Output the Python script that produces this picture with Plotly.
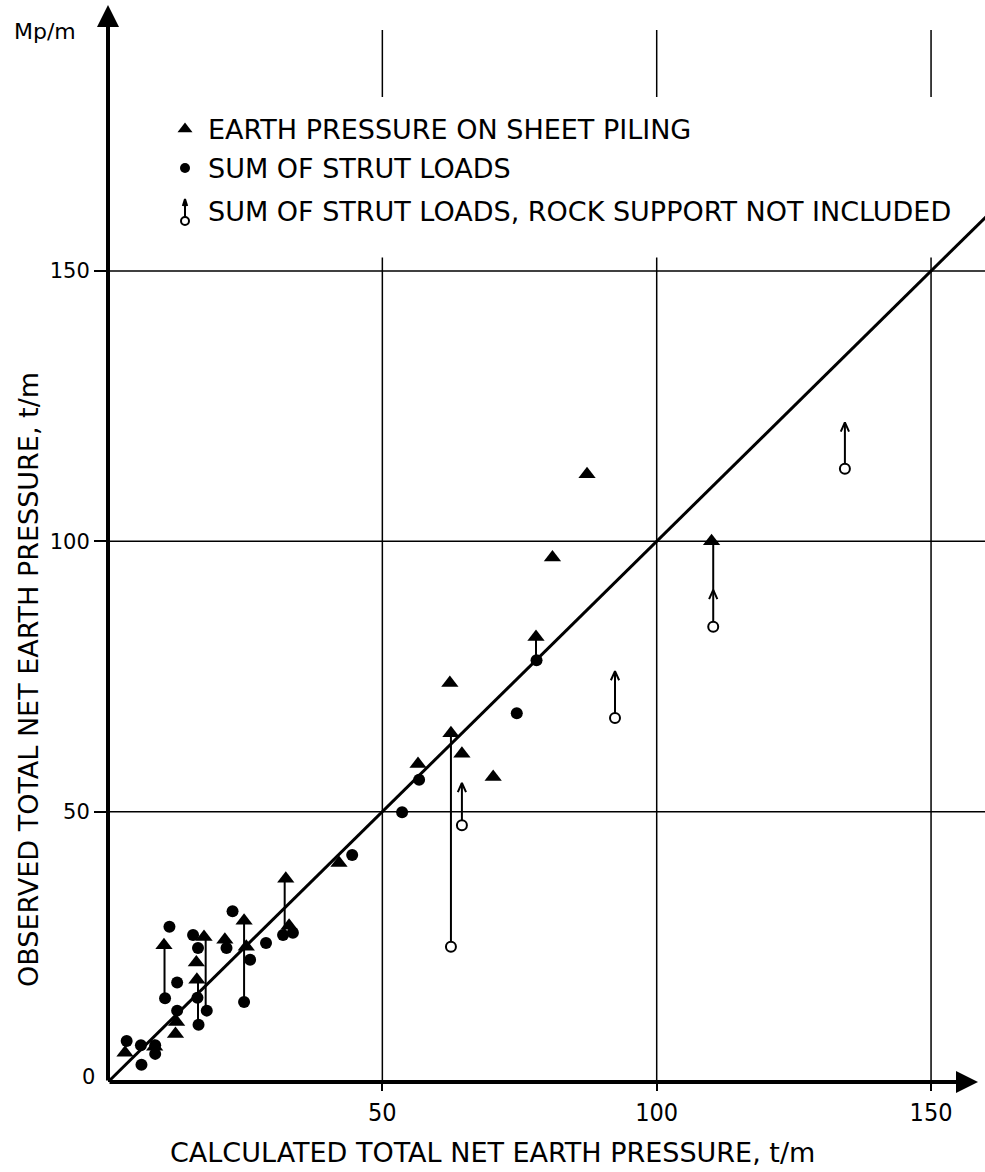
import plotly.graph_objects as go

# ---------------- data ----------------
# Earth pressure on sheet piling (filled triangles)
tri_x = [3.1, 8.5, 12.3, 12.5, 16.2, 16.1, 10.2, 17.5, 21.3, 24.8, 25.2, 32.4, 33.0,
         42.1, 56.5, 62.5, 62.3, 64.5, 70.2, 78.0, 81.0, 87.3, 110.0]
tri_y = [5.4, 6.5, 8.9, 11.1, 18.9, 22.1, 25.3, 26.8, 26.3, 29.8, 25.0, 37.6, 28.9,
         40.5, 58.8, 64.5, 73.8, 60.7, 56.4, 82.3, 97.0, 112.4, 100.0]

# Sum of strut loads (filled circles)
dot_x = [3.4, 6.0, 6.1, 8.6, 8.6, 10.4, 11.2, 12.6, 12.6, 15.5, 16.4, 16.3, 16.5, 18.0,
         21.6, 22.7, 24.8, 25.9, 28.8, 31.9, 33.7, 44.5, 53.6, 56.7, 74.5, 78.1]
dot_y = [7.6, 6.8, 3.2, 6.8, 5.2, 15.5, 28.7, 18.4, 13.2, 27.2, 24.8, 15.6, 10.6, 13.2,
         24.8, 31.6, 14.8, 22.6, 25.7, 27.2, 27.6, 42.0, 49.9, 55.9, 68.2, 78.0]

# vertical links strut loads -> sheet piling
link_x = [10.3, 17.8, 16.4, 24.8, 32.2, 78.0]
link_lo = [15.5, 13.2, 10.6, 14.8, 27.2, 78.0]
link_hi = [25.3, 26.8, 18.9, 29.8, 37.6, 82.3]

# Sum of strut loads, rock support not included (open circles + arrows)
open_x = [62.5, 64.5, 92.4, 110.3, 134.3]
open_y = [25.0, 47.5, 67.3, 84.2, 113.4]
open_top = [64.5, 55.3, 76.0, 100.0, 122.0]
open_head = [None, 55.3, 76.0, 91.0, 122.0]

grid_vals = [50, 100, 150]
tick_text = ["50", "100", "150"]

legend_labels = ["EARTH PRESSURE ON SHEET PILING",
                 "SUM OF STRUT LOADS",
                 "SUM OF STRUT LOADS, ROCK SUPPORT NOT INCLUDED"]

# ---------------- geometry helpers ----------------
W, H = 985, 1172
ML, MB = 108, 90
PW, PH = W - ML, H - MB
PX_X = 5.487   # px per unit
PX_Y = 5.407
XMAX = PW / PX_X
YMAX = PH / PX_Y


def dx(px):
    return (px - ML) / PX_X


def dy(py):
    return (PH - py) / PX_Y


def px_paper(px):
    return (px - ML) / PW


def py_paper(py):
    return (PH - py) / PH


COND = "DejaVu Sans Condensed, Liberation Sans Narrow, Arial Narrow, DejaVu Sans, sans-serif"
WIDE = "DejaVu Sans, Verdana, sans-serif"

fig = go.Figure()

# identity line
fig.add_trace(go.Scatter(x=[0, 170], y=[0, 170], mode="lines",
                         line=dict(color="black", width=3), hoverinfo="skip"))

# links + arrow shafts
lx, ly = [], []
for x, lo, hi in zip(link_x, link_lo, link_hi):
    lx += [x, x, None]
    ly += [lo, hi, None]
for x, lo, hi in zip(open_x, open_y, open_top):
    lx += [x, x, None]
    ly += [lo, hi, None]
fig.add_trace(go.Scatter(x=lx, y=ly, mode="lines", line=dict(color="black", width=2),
                         hoverinfo="skip"))

# open chevron arrow heads
CH_DX, CH_DY = 0.75, 1.7
cx, cy = [], []
for x, hd in zip(open_x, open_head):
    if hd is None:
        continue
    cx += [x - CH_DX, x, x + CH_DX, None]
    cy += [hd - CH_DY, hd, hd - CH_DY, None]
fig.add_trace(go.Scatter(x=cx, y=cy, mode="lines", line=dict(color="black", width=2),
                         hoverinfo="skip"))

fig.add_trace(go.Scatter(x=dot_x, y=dot_y, mode="markers",
                         marker=dict(symbol="circle", size=12, color="black"),
                         name=legend_labels[1]))
fig.add_trace(go.Scatter(x=tri_x, y=tri_y, mode="markers",
                         marker=dict(symbol="triangle-up", size=15, color="black"),
                         name=legend_labels[0]))
fig.add_trace(go.Scatter(x=open_x, y=open_y, mode="markers",
                         marker=dict(symbol="circle", size=10, color="white",
                                     line=dict(color="black", width=2)),
                         name=legend_labels[2]))

annotations = []

# ---------------- manual legend ----------------
leg_y_px = [129, 168, 211]
sym_x = dx(185)
fig.add_trace(go.Scatter(x=[sym_x], y=[dy(leg_y_px[0])], mode="markers",
                         marker=dict(symbol="triangle-up", size=13, color="black"),
                         hoverinfo="skip"))
fig.add_trace(go.Scatter(x=[sym_x], y=[dy(leg_y_px[1])], mode="markers",
                         marker=dict(symbol="circle", size=10, color="black"),
                         hoverinfo="skip"))
fig.add_trace(go.Scatter(x=[sym_x, sym_x, None, sym_x - 0.4, sym_x, sym_x + 0.4],
                         y=[dy(220), dy(199), None, dy(206), dy(199), dy(206)],
                         mode="lines", line=dict(color="black", width=2),
                         hoverinfo="skip"))
fig.add_trace(go.Scatter(x=[sym_x], y=[dy(221)], mode="markers",
                         marker=dict(symbol="circle", size=8, color="white",
                                     line=dict(color="black", width=2)),
                         hoverinfo="skip"))
for lab, py in zip(legend_labels, leg_y_px):
    annotations.append(dict(x=dx(206), y=dy(py), xref="x", yref="y", text=lab,
                            showarrow=False, xanchor="left", yanchor="middle",
                            font=dict(family=WIDE, size=27, color="black")))

# ---------------- axes with arrows ----------------
annotations.append(dict(x=0, y=dy(5), ax=0, ay=0, xref="x", yref="y", axref="x",
                        ayref="y", text="", showarrow=True, arrowhead=2,
                        arrowwidth=4, arrowsize=1.1, arrowcolor="black"))
annotations.append(dict(x=dx(978), y=0, ax=0, ay=0, xref="x", yref="y", axref="x",
                        ayref="y", text="", showarrow=True, arrowhead=2,
                        arrowwidth=4, arrowsize=1.1, arrowcolor="black"))

# labels outside the plotting area (paper coordinates)
def paper_label(text, px, py, size, angle=0):
    return dict(x=px_paper(px), y=py_paper(py), xref="paper", yref="paper",
                text=text, showarrow=False, xanchor="center", yanchor="middle",
                textangle=angle, font=dict(family=WIDE, size=size, color="black"))


annotations.append(paper_label("Mp/m", 45, 31, 22))
annotations.append(paper_label("0", 88, 1077, 21))
annotations.append(paper_label("OBSERVED TOTAL NET EARTH PRESSURE, t/m", 28, 680, 27, -90))
annotations.append(paper_label("CALCULATED TOTAL NET EARTH PRESSURE, t/m", 492, 1152, 27))

# ---------------- grid shapes ----------------
shapes = []
for g in grid_vals:
    shapes.append(dict(type="line", xref="x", yref="y", x0=0, x1=XMAX + 5, y0=g, y1=g,
                       line=dict(color="black", width=1.5), layer="below"))
    shapes.append(dict(type="line", xref="x", yref="y", x0=g, x1=g, y0=0, y1=152.5,
                       line=dict(color="black", width=1.5), layer="below"))
    shapes.append(dict(type="line", xref="x", yref="y", x0=g, x1=g, y0=dy(97), y1=dy(30),
                       line=dict(color="black", width=1.5), layer="below"))

fig.update_layout(
    width=W, height=H,
    margin=dict(l=ML, r=0, t=0, b=MB, pad=0),
    paper_bgcolor="white", plot_bgcolor="white",
    showlegend=False,
    shapes=shapes,
    annotations=annotations,
    xaxis=dict(range=[0, XMAX], tickvals=grid_vals, ticktext=tick_text,
               ticks="outside", ticklen=8, tickwidth=1.5, tickcolor="black",
               showgrid=False, zeroline=False, showline=False,
               ticklabelstandoff=0,
               tickfont=dict(family=COND, size=25, color="black")),
    yaxis=dict(range=[0, YMAX], tickvals=grid_vals, ticktext=tick_text,
               ticks="outside", ticklen=13, tickwidth=1.5, tickcolor="black",
               showgrid=False, zeroline=False, showline=False,
               tickfont=dict(family=WIDE, size=21, color="black")),
)

fig.write_html("out.html", config={"displayModeBar": False},
               post_script="document.body.style.margin='0';document.body.style.overflow='hidden';")
